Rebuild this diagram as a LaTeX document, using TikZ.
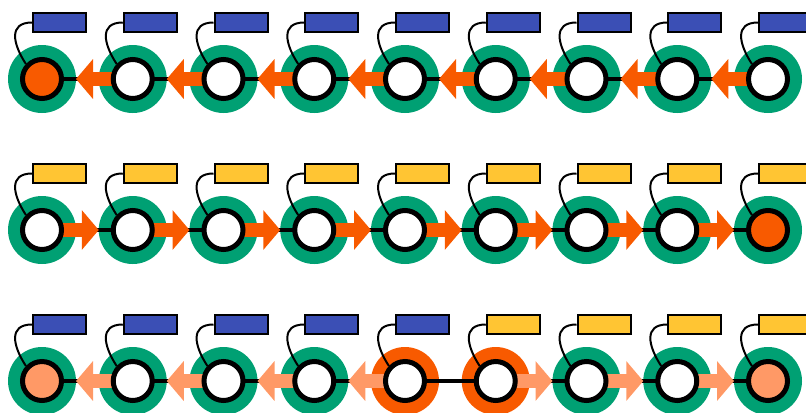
\documentclass[tikz,border=0pt]{standalone}
\usetikzlibrary{arrows.meta}
\definecolor{grn}{RGB}{0,160,115}
\definecolor{org}{RGB}{248,90,0}
\definecolor{slm}{RGB}{255,153,102}
\definecolor{blu}{RGB}{59,79,181}
\definecolor{ylw}{RGB}{255,197,51}
\tikzset{
  disk/.style={circle,fill=#1,draw=none,minimum size=51pt,inner sep=0pt},
  ring/.style={circle,fill=#1,draw=black,line width=3.75pt,minimum size=29.25pt,inner sep=0pt},
  tag/.style={rectangle,fill=#1,draw=black,line width=1.5pt,minimum width=39.75pt,minimum height=14.25pt,inner sep=0pt},
  link/.style={draw=black,line width=3pt},
  flow/.style={draw=#1,line width=10.5pt,-{Triangle[length=12.75pt,width=29.25pt]},shorten >=25.5pt},
  lead/.style={draw=black,line width=1.5pt}
}
\begin{document}
\begin{tikzpicture}[x=0.75pt,y=-0.75pt]
\useasboundingbox (0,0) rectangle (806,412);
\clip (0,0) rectangle (806,412);
% ---------- row 1 ----------
\foreach \i in {1,...,9}{
  \pgfmathsetmacro\xx{42+90.75*(\i-1)}
  \node[disk=grn] (g-1-\i) at (\xx,79) {};
}
\foreach \i in {1,...,8}{
  \pgfmathtruncatemacro\j{\i+1}
  \draw[link] (g-1-\i.center) -- (g-1-\j.center);
}
\foreach \i in {1,...,8}{
  \pgfmathtruncatemacro\j{\i+1}
  \draw[flow=org] (g-1-\j.center) -- (g-1-\i.center);
}
\foreach \i/\f in {1/org,2/white,3/white,4/white,5/white,6/white,7/white,8/white,9/white}{
  \node[ring=\f] (n-1-\i) at (g-1-\i.center) {};
  \node[tag=blu] (b-1-\i) at ([xshift=13.125pt,yshift=42.375pt]g-1-\i.center) {};
  \draw[lead] (b-1-\i.west) .. controls +(-24,0) and +(-13,-20) .. (n-1-\i.137);
}
% ---------- row 2 ----------
\foreach \i in {1,...,9}{
  \pgfmathsetmacro\xx{42+90.75*(\i-1)}
  \node[disk=grn] (g-2-\i) at (\xx,230) {};
}
\foreach \i in {1,...,8}{
  \pgfmathtruncatemacro\j{\i+1}
  \draw[link] (g-2-\i.center) -- (g-2-\j.center);
}
\foreach \i in {1,...,8}{
  \pgfmathtruncatemacro\j{\i+1}
  \draw[flow=org] (g-2-\i.center) -- (g-2-\j.center);
}
\foreach \i/\f in {1/white,2/white,3/white,4/white,5/white,6/white,7/white,8/white,9/org}{
  \node[ring=\f] (n-2-\i) at (g-2-\i.center) {};
  \node[tag=ylw] (b-2-\i) at ([xshift=13.125pt,yshift=42.375pt]g-2-\i.center) {};
  \draw[lead] (b-2-\i.west) .. controls +(-24,0) and +(-13,-20) .. (n-2-\i.137);
}
% ---------- row 3 ----------
\foreach \i/\d in {1/grn,2/grn,3/grn,4/grn,5/org,6/org,7/grn,8/grn,9/grn}{
  \pgfmathsetmacro\xx{42+90.75*(\i-1)}
  \node[disk=\d] (g-3-\i) at (\xx,381) {};
}
\foreach \i in {1,...,8}{
  \pgfmathtruncatemacro\j{\i+1}
  \draw[link] (g-3-\i.center) -- (g-3-\j.center);
}
\foreach \i in {1,...,4}{
  \pgfmathtruncatemacro\j{\i+1}
  \draw[flow=slm] (g-3-\j.center) -- (g-3-\i.center);
}
\foreach \i in {6,...,8}{
  \pgfmathtruncatemacro\j{\i+1}
  \draw[flow=slm] (g-3-\i.center) -- (g-3-\j.center);
}
\foreach \i/\f/\c in {1/slm/blu,2/white/blu,3/white/blu,4/white/blu,5/white/blu,6/white/ylw,7/white/ylw,8/white/ylw,9/slm/ylw}{
  \node[ring=\f] (n-3-\i) at (g-3-\i.center) {};
  \node[tag=\c] (b-3-\i) at ([xshift=13.125pt,yshift=42.375pt]g-3-\i.center) {};
  \draw[lead] (b-3-\i.west) .. controls +(-24,0) and +(-13,-20) .. (n-3-\i.137);
}
\end{tikzpicture}
\end{document}
